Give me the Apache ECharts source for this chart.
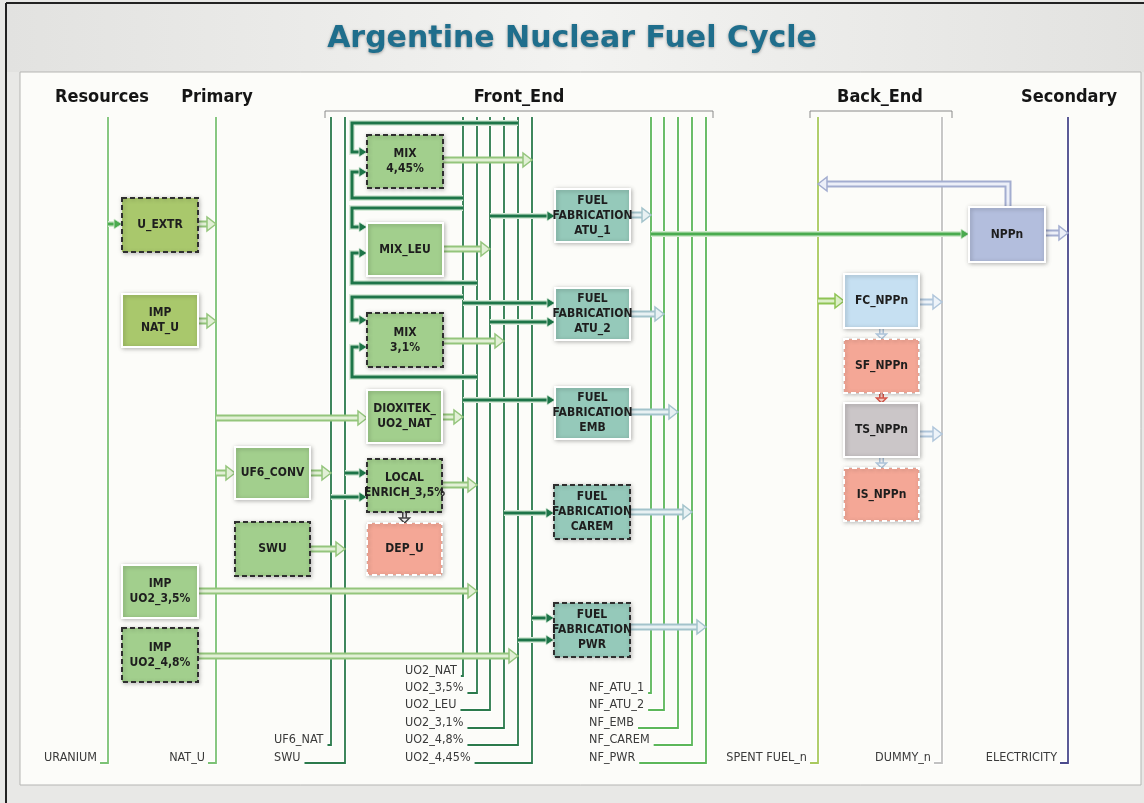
<!DOCTYPE html>
<html>
<head>
<meta charset="utf-8">
<title>Argentine Nuclear Fuel Cycle</title>
<script src="https://cdn.jsdelivr.net/npm/echarts@6/dist/echarts.min.js"></script>
<style>
  html, body { margin: 0; padding: 0; background: #e8e8e6; }
  #main { width: 1144px; height: 803px; }
</style>
</head>
<body>
<div id="main"></div>
<script>
const FONT = "'Liberation Sans Narrow', 'DejaVu Sans Condensed', Roboto, sans-serif";

// ---- data: what is in the diagram ----
const stages = ['Resources', 'Primary', 'Front_End', 'Back_End', 'Secondary'];

// commodities = vertical lines, named at the bottom
const commodities = ['URANIUM', 'NAT_U', 'UF6_NAT', 'SWU',
  'UO2_NAT', 'UO2_3,5%', 'UO2_LEU', 'UO2_3,1%', 'UO2_4,8%', 'UO2_4,45%',
  'NF_ATU_1', 'NF_ATU_2', 'NF_EMB', 'NF_CAREM', 'NF_PWR',
  'SPENT FUEL_n', 'DUMMY_n', 'ELECTRICITY'];

// processes = boxes
const processIds = ['U_EXTR', 'IMP_NAT_U', 'MIX_445', 'MIX_LEU', 'MIX_31', 'DIOXITEK', 'UF6_CONV', 'ENRICH', 'SWU_P', 'DEP_U',
  'IMP_UO2_35', 'IMP_UO2_48', 'FF_ATU_1', 'FF_ATU_2', 'FF_EMB', 'FF_CAREM', 'FF_PWR',
  'NPPn', 'FC_NPPn', 'SF_NPPn', 'TS_NPPn', 'IS_NPPn'];
const processLabels = ['U_EXTR', 'IMP\nNAT_U', 'MIX\n4,45%', 'MIX_LEU', 'MIX\n3,1%', 'DIOXITEK_\nUO2_NAT', 'UF6_CONV', 'LOCAL\nENRICH_3,5%', 'SWU', 'DEP_U',
  'IMP\nUO2_3,5%', 'IMP\nUO2_4,8%', 'FUEL\nFABRICATION\nATU_1', 'FUEL\nFABRICATION\nATU_2', 'FUEL\nFABRICATION\nEMB', 'FUEL\nFABRICATION\nCAREM', 'FUEL\nFABRICATION\nPWR',
  'NPPn', 'FC_NPPn', 'SF_NPPn', 'TS_NPPn', 'IS_NPPn'];

// commodity -> process
const inputFlows = [
  ['URANIUM', 'U_EXTR'], ['NAT_U', 'DIOXITEK'], ['NAT_U', 'UF6_CONV'], ['SWU', 'ENRICH'], ['UF6_NAT', 'ENRICH'],
  ['UO2_4,8%', 'MIX_445'], ['UO2_NAT', 'MIX_445'], ['UO2_NAT', 'MIX_LEU'], ['UO2_3,5%', 'MIX_LEU'],
  ['UO2_NAT', 'MIX_31'], ['UO2_3,5%', 'MIX_31'],
  ['UO2_LEU', 'FF_ATU_1'], ['UO2_NAT', 'FF_ATU_2'], ['UO2_LEU', 'FF_ATU_2'], ['UO2_NAT', 'FF_EMB'],
  ['UO2_3,1%', 'FF_CAREM'], ['UO2_4,45%', 'FF_PWR'], ['UO2_4,8%', 'FF_PWR'],
  ['NF_ATU_1', 'NPPn'], ['SPENT FUEL_n', 'FC_NPPn']
];
// process -> commodity
const outputFlows = [
  ['U_EXTR', 'NAT_U'], ['IMP_NAT_U', 'NAT_U'], ['DIOXITEK', 'UO2_NAT'], ['UF6_CONV', 'UF6_NAT'], ['SWU_P', 'SWU'],
  ['ENRICH', 'UO2_3,5%'], ['IMP_UO2_35', 'UO2_3,5%'], ['IMP_UO2_48', 'UO2_4,8%'],
  ['MIX_445', 'UO2_4,45%'], ['MIX_LEU', 'UO2_LEU'], ['MIX_31', 'UO2_3,1%'],
  ['FF_ATU_1', 'NF_ATU_1'], ['FF_ATU_2', 'NF_ATU_2'], ['FF_EMB', 'NF_EMB'], ['FF_CAREM', 'NF_CAREM'], ['FF_PWR', 'NF_PWR'],
  ['NPPn', 'ELECTRICITY'], ['NPPn', 'SPENT FUEL_n'], ['FC_NPPn', 'DUMMY_n'], ['TS_NPPn', 'DUMMY_n']
];
// process -> process
const chainFlows = [['ENRICH', 'DEP_U'], ['FC_NPPn', 'SF_NPPn'], ['SF_NPPn', 'TS_NPPn'], ['TS_NPPn', 'IS_NPPn']];

// ---- layout (diagram units = pixels) ----
const stageX = { Resources: 102, Primary: 217, Front_End: 519, Back_End: 880, Secondary: 1069 };
const stageBracket = { Front_End: [325, 713], Back_End: [810, 952] };
const lineTop = 117;
const lineX = {
  'URANIUM': 108, 'NAT_U': 216, 'UF6_NAT': 331, 'SWU': 345,
  'UO2_NAT': 463, 'UO2_3,5%': 477, 'UO2_LEU': 490, 'UO2_3,1%': 504, 'UO2_4,8%': 518, 'UO2_4,45%': 532,
  'NF_ATU_1': 651, 'NF_ATU_2': 664, 'NF_EMB': 678, 'NF_CAREM': 692, 'NF_PWR': 706,
  'SPENT FUEL_n': 818, 'DUMMY_n': 942, 'ELECTRICITY': 1068
};
const lineBottom = {
  'URANIUM': 763, 'NAT_U': 763, 'UF6_NAT': 745, 'SWU': 763,
  'UO2_NAT': 676, 'UO2_3,5%': 693, 'UO2_LEU': 710, 'UO2_3,1%': 728, 'UO2_4,8%': 745, 'UO2_4,45%': 763,
  'NF_ATU_1': 693, 'NF_ATU_2': 710, 'NF_EMB': 728, 'NF_CAREM': 745, 'NF_PWR': 763,
  'SPENT FUEL_n': 763, 'DUMMY_n': 763, 'ELECTRICITY': 763
};
// left edge of label columns (others sit right next to their line)
const labelLeft = {
  'UF6_NAT': 274, 'SWU': 274,
  'UO2_NAT': 405, 'UO2_3,5%': 405, 'UO2_LEU': 405, 'UO2_3,1%': 405, 'UO2_4,8%': 405, 'UO2_4,45%': 405,
  'NF_ATU_1': 589, 'NF_ATU_2': 589, 'NF_EMB': 589, 'NF_CAREM': 589, 'NF_PWR': 589
};
const lineColor = {
  'URANIUM': '#7cc275', 'NAT_U': '#7cc275', 'SPENT FUEL_n': '#a9c95e', 'DUMMY_n': '#c2c2c2', 'ELECTRICITY': '#4b4a8c'
};

const boxLayout = {
  U_EXTR: { rect: [122, 198, 76, 54], fill: 'yellow', dashed: true },
  IMP_NAT_U: { rect: [122, 294, 76, 53], fill: 'yellow' },
  MIX_445: { rect: [367, 135, 76, 53], fill: 'green', dashed: true },
  MIX_LEU: { rect: [367, 223, 76, 53], fill: 'green' },
  MIX_31: { rect: [367, 313, 76, 54], fill: 'green', dashed: true },
  DIOXITEK: { rect: [367, 390, 75, 53], fill: 'green' },
  UF6_CONV: { rect: [235, 447, 75, 52], fill: 'green' },
  ENRICH: { rect: [367, 459, 75, 53], fill: 'green', dashed: true },
  SWU_P: { rect: [235, 522, 75, 54], fill: 'green', dashed: true },
  DEP_U: { rect: [367, 523, 75, 52], fill: 'salmon', dashed: true },
  IMP_UO2_35: { rect: [122, 565, 76, 53], fill: 'green' },
  IMP_UO2_48: { rect: [122, 628, 76, 54], fill: 'green', dashed: true },
  FF_ATU_1: { rect: [555, 189, 75, 53], fill: 'teal' },
  FF_ATU_2: { rect: [555, 288, 75, 52], fill: 'teal' },
  FF_EMB: { rect: [555, 387, 75, 52], fill: 'teal' },
  FF_CAREM: { rect: [554, 485, 76, 54], fill: 'teal', dashed: true },
  FF_PWR: { rect: [554, 603, 76, 54], fill: 'teal', dashed: true },
  NPPn: { rect: [969, 207, 76, 55], fill: 'lavender' },
  FC_NPPn: { rect: [844, 274, 75, 54], fill: 'sky' },
  SF_NPPn: { rect: [844, 339, 75, 54], fill: 'salmon', dashed: true },
  TS_NPPn: { rect: [844, 403, 75, 54], fill: 'grey' },
  IS_NPPn: { rect: [844, 468, 75, 53], fill: 'salmon', dashed: true }
};
const boxColors = {
  yellow: '#a9c86c', green: '#a2cf8d', teal: '#95c9ba', salmon: '#f4a796',
  lavender: '#b3bedd', sky: '#c6e0f2', grey: '#cbc6c8'
};

// y on the commodity line, and (loops) y at the box inlet
const loopX = 352;
const inputPorts = {
  'URANIUM>U_EXTR': [224], 'NAT_U>DIOXITEK': [418], 'NAT_U>UF6_CONV': [473],
  'SWU>ENRICH': [473], 'UF6_NAT>ENRICH': [497],
  'UO2_4,8%>MIX_445': [123, 152], 'UO2_NAT>MIX_445': [198, 172],
  'UO2_NAT>MIX_LEU': [208, 227], 'UO2_3,5%>MIX_LEU': [283, 253],
  'UO2_NAT>MIX_31': [297, 320], 'UO2_3,5%>MIX_31': [377, 347],
  'UO2_LEU>FF_ATU_1': [216], 'UO2_NAT>FF_ATU_2': [303], 'UO2_LEU>FF_ATU_2': [322],
  'UO2_NAT>FF_EMB': [400], 'UO2_3,1%>FF_CAREM': [513],
  'UO2_4,45%>FF_PWR': [618], 'UO2_4,8%>FF_PWR': [640],
  'NF_ATU_1>NPPn': [234], 'SPENT FUEL_n>FC_NPPn': [301]
};
const outputPorts = {
  'U_EXTR>NAT_U': [224], 'IMP_NAT_U>NAT_U': [321], 'DIOXITEK>UO2_NAT': [417], 'UF6_CONV>UF6_NAT': [473],
  'SWU_P>SWU': [549], 'ENRICH>UO2_3,5%': [485], 'IMP_UO2_35>UO2_3,5%': [591], 'IMP_UO2_48>UO2_4,8%': [656],
  'MIX_445>UO2_4,45%': [160], 'MIX_LEU>UO2_LEU': [249], 'MIX_31>UO2_3,1%': [341],
  'FF_ATU_1>NF_ATU_1': [215], 'FF_ATU_2>NF_ATU_2': [314], 'FF_EMB>NF_EMB': [412],
  'FF_CAREM>NF_CAREM': [512], 'FF_PWR>NF_PWR': [627],
  'NPPn>ELECTRICITY': [233], 'NPPn>SPENT FUEL_n': [184, 1008],
  'FC_NPPn>DUMMY_n': [302], 'TS_NPPn>DUMMY_n': [434]
};

const arrowStyles = {
  light: { double: true, color: '#94c57c', inner: '#e2f0d6', width: 7, innerWidth: 3, head: 9, headW: 7 },
  spent: { double: true, color: '#8fc455', inner: '#dcefc8', width: 7, innerWidth: 3, head: 9, headW: 7 },
  fab: { double: true, color: '#a3c3cb', inner: '#e8f1f3', width: 7, innerWidth: 3, head: 9, headW: 7 },
  back: { double: true, color: '#b0c6db', inner: '#edf3f9', width: 7, innerWidth: 3, head: 9, headW: 7 },
  npp: { double: true, color: '#a3add0', inner: '#eceff8', width: 7, innerWidth: 3, head: 9, headW: 7 },
  dark: { color: '#1d7548', halo: '#d8ebd9', width: 3, head: 8, headW: 5 },
  green: { color: '#4aab4f', halo: '#d3ead0', width: 3, head: 8, headW: 5 },
  chainBack: { double: true, color: '#b0c6db', inner: '#f2f6fa', width: 5, innerWidth: 2, head: 5, headW: 5 },
  chainRed: { double: true, color: '#d9574a', inner: '#f7cdc5', width: 5, innerWidth: 2, head: 5, headW: 5 },
  chainDark: { double: true, color: '#444', inner: '#eeeeee', width: 5, innerWidth: 2, head: 5, headW: 5 }
};

function inputStyle(c) {
  if (c === 'URANIUM' || c === 'NF_ATU_1') return 'green';
  if (c === 'NAT_U') return 'light';
  if (c === 'SPENT FUEL_n') return 'spent';
  return 'dark';
}
function outputStyle(p) {
  if (p.indexOf('FF_') === 0) return 'fab';
  if (p === 'NPPn') return 'npp';
  if (p === 'FC_NPPn' || p === 'TS_NPPn') return 'back';
  return 'light';
}
const chainStyle = { 'ENRICH>DEP_U': 'chainDark', 'FC_NPPn>SF_NPPn': 'chainBack', 'SF_NPPn>TS_NPPn': 'chainRed', 'TS_NPPn>IS_NPPn': 'chainBack' };

// build flow routes
const flows = [];
inputFlows.forEach(([c, p]) => {
  const port = inputPorts[c + '>' + p];
  const r = boxLayout[p].rect;
  const route = port.length > 1
    ? [[lineX[c], port[0]], [loopX, port[0]], [loopX, port[1]], [r[0], port[1]]]
    : [[lineX[c], port[0]], [r[0], port[0]]];
  flows.push({ route, style: inputStyle(c) });
});
outputFlows.forEach(([p, c]) => {
  const port = outputPorts[p + '>' + c];
  const r = boxLayout[p].rect;
  const route = port.length > 1
    ? [[port[1], r[1]], [port[1], port[0]], [lineX[c], port[0]]]
    : [[r[0] + r[2], port[0]], [lineX[c], port[0]]];
  flows.push({ route, style: outputStyle(p) });
});
chainFlows.forEach(([a, b]) => {
  const ra = boxLayout[a].rect, rb = boxLayout[b].rect;
  const cx = ra[0] + ra[2] / 2;
  flows.push({ route: [[cx, ra[1] + ra[3]], [cx, rb[1]]], style: chainStyle[a + '>' + b] });
});

// ---- drawing helpers ----
const measureCtx = document.createElement('canvas').getContext('2d');
function textWidth(s, font) { measureCtx.font = font; return measureCtx.measureText(s).width; }

function arrowEls(pts, st) {
  const n = pts.length;
  const [x1, y1] = pts[n - 2], [x2, y2] = pts[n - 1];
  const len = Math.hypot(x2 - x1, y2 - y1) || 1;
  const ux = (x2 - x1) / len, uy = (y2 - y1) / len;
  const bx = x2 - ux * st.head, by = y2 - uy * st.head;
  const body = pts.slice(0, n - 1).concat([[bx, by]]);
  const head = [[x2, y2], [bx - uy * st.headW, by + ux * st.headW], [bx + uy * st.headW, by - ux * st.headW]];
  const els = [];
  if (st.double) {
    els.push({ type: 'polyline', shape: { points: body }, style: { stroke: st.color, lineWidth: st.width, fill: null, lineJoin: 'miter' } });
    els.push({ type: 'polyline', shape: { points: body }, style: { stroke: st.inner, lineWidth: st.innerWidth, fill: null, lineJoin: 'miter' } });
    els.push({ type: 'polygon', shape: { points: head }, style: { fill: st.inner, stroke: st.color, lineWidth: 1.5, lineJoin: 'miter' } });
  } else {
    els.push({ type: 'polyline', shape: { points: body }, style: { stroke: st.halo, lineWidth: st.width + 3, fill: null, lineJoin: 'miter' } });
    els.push({ type: 'polyline', shape: { points: body }, style: { stroke: st.color, lineWidth: st.width, fill: null, lineJoin: 'miter' } });
    els.push({ type: 'polygon', shape: { points: head }, style: { fill: st.color, stroke: st.halo, lineWidth: 0.8 } });
  }
  return els;
}

const labelFont = '12.5px ' + FONT;

const option = {
  backgroundColor: '#e8e8e6',
  animation: false,
  title: {
    text: 'Argentine Nuclear Fuel Cycle',
    left: 'center',
    top: 19,
    textStyle: {
      fontFamily: "'DejaVu Sans', sans-serif",
      fontSize: 30,
      fontWeight: 'bold',
      color: '#1f6e8c',
      textShadowColor: 'rgba(0,0,0,0.35)',
      textShadowBlur: 3,
      textShadowOffsetY: 1
    }
  },
  graphic: [
    { type: 'rect', z: -10, shape: { x: 7, y: 4, width: 1140, height: 68 },
      style: { fill: new echarts.graphic.LinearGradient(0, 0, 1, 0, [
        { offset: 0, color: '#e2e2e0' }, { offset: 0.5, color: '#f3f3f1' }, { offset: 1, color: '#e2e2e0' }]) } },
    { type: 'rect', z: -10, shape: { x: 20, y: 72, width: 1121, height: 713 },
      style: { fill: '#fcfcf9', stroke: '#b5b5b3', lineWidth: 1 } },
    { type: 'line', z: -9, shape: { x1: 6, y1: 3, x2: 1144, y2: 3 }, style: { stroke: '#222', lineWidth: 2 } },
    { type: 'line', z: -9, shape: { x1: 6, y1: 3, x2: 6, y2: 803 }, style: { stroke: '#222', lineWidth: 2 } }
  ],
  grid: { left: 0, right: 0, top: 0, bottom: 0 },
  xAxis: { type: 'value', min: 0, max: 1144, show: false },
  yAxis: { type: 'value', min: 0, max: 803, inverse: true, show: false },
  series: [
    {
      // column headers
      type: 'custom',
      z: 1,
      data: stages.map((s, i) => [stageX[s], 97, i]),
      renderItem: (params, api) => {
        const s = stages[api.value(2)];
        const p = api.coord([api.value(0), api.value(1)]);
        const children = [{
          type: 'text',
          style: { text: s, x: p[0], y: p[1], textAlign: 'center', textVerticalAlign: 'middle',
            font: 'bold 18px ' + FONT, fill: '#151515' }
        }];
        const br = stageBracket[s];
        if (br) {
          const a = api.coord([br[0], 111]), b = api.coord([br[1], 111]);
          children.push({ type: 'polyline', shape: { points: [[a[0], a[1] + 7], a, b, [b[0], b[1] + 7]] },
            style: { stroke: '#8a8a8a', lineWidth: 1, fill: null } });
        }
        return { type: 'group', children };
      }
    },
    {
      // commodity lines
      type: 'custom',
      z: 2,
      data: commodities.map((c, i) => [lineX[c], lineBottom[c], i]),
      renderItem: (params, api) => {
        const c = commodities[api.value(2)];
        const color = lineColor[c] || (c.indexOf('NF_') === 0 ? '#5cb75a' : '#2b7a4c');
        const top = api.coord([api.value(0), lineTop]);
        const bot = api.coord([api.value(0), api.value(1)]);
        const w = textWidth(c, labelFont);
        let tx, hookStart;
        if (labelLeft[c] !== undefined) {
          tx = api.coord([labelLeft[c], 0])[0];
          hookStart = tx + w + 4;
        } else {
          hookStart = bot[0] - 8;
          tx = hookStart - 3 - w;
        }
        return {
          type: 'group',
          children: [
            { type: 'polyline', shape: { points: [[hookStart, bot[1]], bot, top] },
              style: { stroke: '#ffffff', lineWidth: 4, fill: null, opacity: 0.8 } },
            { type: 'polyline', shape: { points: [[hookStart, bot[1]], bot, top] },
              style: { stroke: color, lineWidth: 1.8, fill: null, lineJoin: 'miter' } },
            { type: 'text', style: { text: c, x: tx, y: bot[1] - 5, textAlign: 'left', textVerticalAlign: 'middle',
              font: labelFont, fill: '#3a3a3a' } }
          ]
        };
      }
    },
    {
      // flows
      type: 'custom',
      z: 3,
      data: flows.map((f, i) => [f.route[0][0], f.route[0][1], i]),
      renderItem: (params, api) => {
        const f = flows[api.value(2)];
        const pts = f.route.map(p => api.coord(p));
        return { type: 'group', children: arrowEls(pts, arrowStyles[f.style]) };
      }
    },
    {
      // process boxes
      type: 'custom',
      z: 4,
      data: processIds.map((id, i) => [boxLayout[id].rect[0], boxLayout[id].rect[1], i]),
      renderItem: (params, api) => {
        const i = api.value(2);
        const b = boxLayout[processIds[i]];
        const p0 = api.coord([b.rect[0], b.rect[1]]);
        const p1 = api.coord([b.rect[0] + b.rect[2], b.rect[1] + b.rect[3]]);
        const salmon = b.fill === 'salmon';
        const stroke = b.dashed && !salmon ? '#2f2f2f' : '#ffffff';
        return {
          type: 'group',
          children: [
            { type: 'rect', shape: { x: p0[0], y: p0[1], width: p1[0] - p0[0], height: p1[1] - p0[1] },
              style: { fill: boxColors[b.fill], stroke, lineWidth: 2, lineDash: b.dashed ? [5, 3] : null,
                shadowBlur: 4, shadowColor: 'rgba(0,0,0,0.25)', shadowOffsetX: 1, shadowOffsetY: 1 } },
            { type: 'text', style: { text: processLabels[i], x: (p0[0] + p1[0]) / 2, y: (p0[1] + p1[1]) / 2,
              textAlign: 'center', textVerticalAlign: 'middle', lineHeight: 15,
              font: 'bold 12px ' + FONT, fill: '#1e1e1e' } }
          ]
        };
      }
    }
  ]
};

const chart = echarts.init(document.getElementById('main'));
chart.setOption(option);
</script>
</body>
</html>
